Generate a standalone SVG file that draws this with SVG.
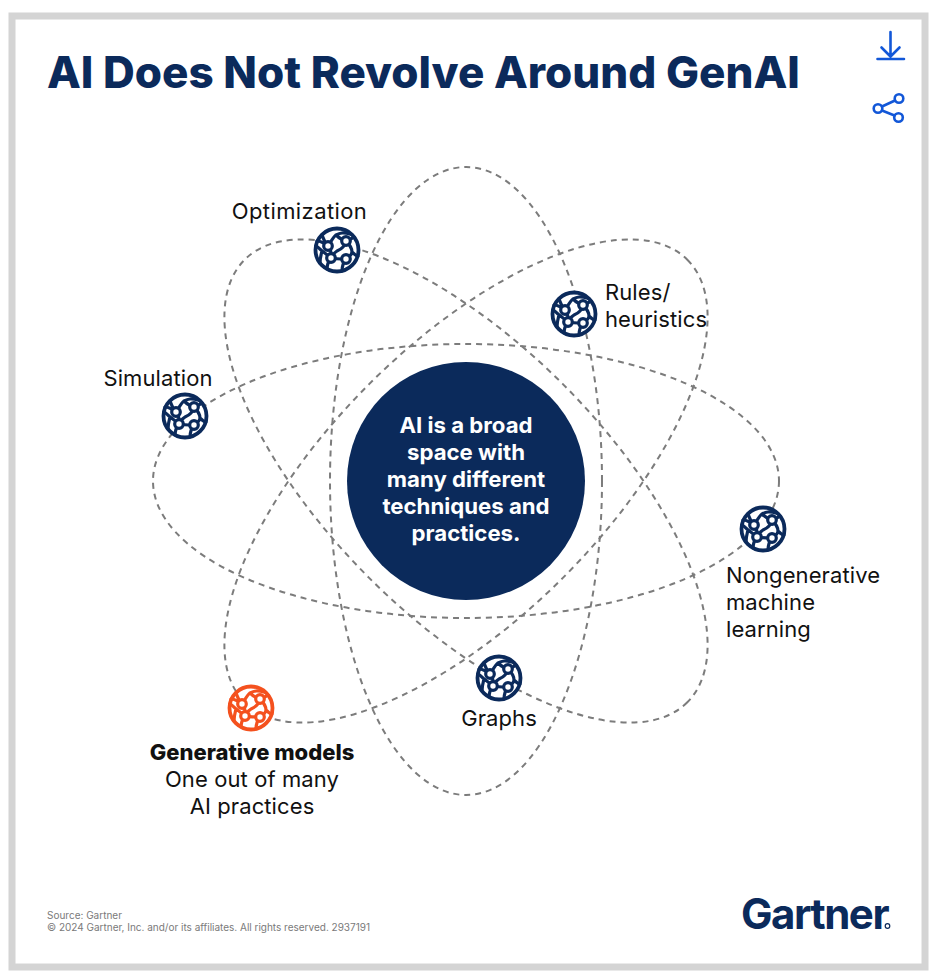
<svg xmlns="http://www.w3.org/2000/svg" width="936" height="979" viewBox="0 0 936 979">
<style>
text{font-family:"Inter","Liberation Sans",sans-serif;fill:#111}
.lbl{font-size:22px;font-weight:400;letter-spacing:.1px}
.c{text-anchor:middle}
.orb{fill:none;stroke:#7c7c7c;stroke-width:2;stroke-dasharray:6 5}
.ico{fill:none;stroke-width:3.200;stroke-linejoin:round;stroke-linecap:round}
.rim{fill:none;stroke-width:3.800}
.ib{fill:#fff;stroke-width:3.200}
.navy{stroke:#0b2a5b}
.org{stroke:#f4511e}
.blue{fill:none;stroke:#1257d8;stroke-width:2.6;stroke-linecap:round;stroke-linejoin:round}
</style>
<defs>
<g id="globe">
<circle r="22" fill="#fff" stroke="none"/>
<circle r="21.500" class="rim" stroke="inherit"/>
<path class="ico" stroke="inherit" d="M-20-9C-16-9-13-7-9-4M-15-15C-13-10-12-7-9-4M-9-4C-6-8-4-13-1-15C3-17 6-18 13-16M-9-4C-5 0-6 4-6 8M-1-15C2-12 5-10 9-9M9-9C14-11 16-12 17-13M9-9C8-4 5-1 0 1C-3 3-5 5-6 8M9-9C13-5 15-2 15 2C15 5 12 7 9 9M15 2C18 5 19 6 21 6M-6 8C-10 5-13 2-15 1C-17-1-19-3-21-4M-15 1C-16 5-17 8-17 13M-6 8C-9 12-10 15-10 19M-6 8C-2 9 3 9 9 9M9 9C6 13 5 17 5 21"/>
<circle cx="-9" cy="-4" r="4.300" class="ib" stroke="inherit"/>
<circle cx="9" cy="-9" r="4.300" class="ib" stroke="inherit"/>
<circle cx="-6" cy="8" r="4.300" class="ib" stroke="inherit"/>
<circle cx="9" cy="9" r="4.300" class="ib" stroke="inherit"/>
</g>
</defs>
<rect x="0" y="0" width="936" height="979" fill="#fff"/>
<rect x="12" y="16" width="913" height="951" fill="#fff" stroke="#d4d4d4" stroke-width="7"/>
<text x="47" y="88" font-size="44" font-weight="800" style="fill:#0b2a5b">AI Does Not Revolve Around GenAI</text>
<g id="download" class="blue"><path d="M890.500 32V56M881.500 47.500L890.500 56.500L899.500 47.500M877.500 59H904"/></g>
<g id="share" class="blue"><circle cx="878" cy="108.500" r="4.300"/><circle cx="899" cy="98.500" r="4.300"/><circle cx="898.500" cy="117.500" r="4.300"/><path d="M882 106.500L895 100.500M882 110.500L894.500 115.500"/></g>
<g id="connectors">
<ellipse class="orb" cx="466" cy="481" rx="136" ry="314"/>
<ellipse class="orb" cx="466" cy="481" rx="313" ry="137"/>
<ellipse class="orb" cx="466" cy="481" rx="313" ry="137" transform="rotate(45 466 481)"/>
<ellipse class="orb" cx="466" cy="481" rx="313" ry="137" transform="rotate(-45 466 481)"/>
</g>
<g id="center"><circle cx="466" cy="481" r="119" fill="#0b2a5b"/>
<g font-size="22.200" font-weight="700"><text x="466" y="433" class="c" style="fill:#fff">AI is a broad</text><text x="466" y="460" class="c" style="fill:#fff">space with</text><text x="466" y="487" class="c" style="fill:#fff">many different</text><text x="466" y="514" class="c" style="fill:#fff">techniques and</text><text x="466" y="541" class="c" style="fill:#fff">practices.</text></g></g>
<g id="optimization" class="navy"><use href="#globe" x="337" y="250"/><text class="lbl c" x="299.500" y="219" stroke="none" style="letter-spacing:.4px">Optimization</text></g>
<g id="rules" class="navy"><use href="#globe" x="574" y="314"/><text class="lbl" x="605" y="300" stroke="none">Rules/</text><text class="lbl" x="605" y="327" stroke="none">heuristics</text></g>
<g id="simulation" class="navy"><use href="#globe" x="185" y="416"/><text class="lbl c" x="158" y="386" stroke="none">Simulation</text></g>
<g id="nongenerative" class="navy"><use href="#globe" x="763" y="529"/><text class="lbl" x="726" y="583" stroke="none">Nongenerative</text><text class="lbl" x="726" y="610" stroke="none">machine</text><text class="lbl" x="726" y="637" stroke="none">learning</text></g>
<g id="graphs" class="navy"><use href="#globe" x="499" y="678"/><text class="lbl c" x="499" y="726" stroke="none">Graphs</text></g>
<g id="generative" class="org"><use href="#globe" x="251" y="708"/><text class="lbl c" x="252" y="760" stroke="none" style="font-weight:800;font-size:22px;letter-spacing:0">Generative models</text><text class="lbl c" x="252" y="787" stroke="none">One out of many</text><text class="lbl c" x="252" y="814" stroke="none">AI practices</text></g>
<g id="footer"><text x="47" y="919" font-size="10" style="fill:#7a7a7a">Source: Gartner</text><text x="47" y="931" font-size="10" style="fill:#7a7a7a" textLength="323">© 2024 Gartner, Inc. and/or its affiliates. All rights reserved. 2937191</text>
<text x="741" y="929" font-size="42" font-weight="700" letter-spacing="-1.500" style="fill:#0b2a5b">Gartner</text><circle cx="887.500" cy="926" r="2.300" fill="none" stroke="#0b2a5b" stroke-width="1.200"/></g>
</svg>
